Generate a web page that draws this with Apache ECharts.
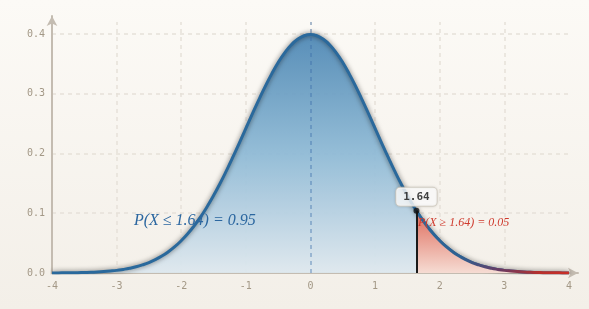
<!DOCTYPE html>
<html>
<head>
<meta charset="utf-8">
<script src="https://cdn.jsdelivr.net/npm/echarts@6/dist/echarts.min.js"></script>
<style>
html,body{margin:0;padding:0;}
#c{width:589px;height:309px;background:linear-gradient(#fcfaf6,#f3efe8);}
</style>
</head>
<body>
<div id="c"></div>
<script>
// x positions along the curve
var xs = [-4.0,-3.9,-3.8,-3.7,-3.6,-3.5,-3.4,-3.3,-3.2,-3.1,-3.0,-2.9,-2.8,-2.7,-2.6,-2.5,-2.4,-2.3,-2.2,-2.1,
  -2.0,-1.9,-1.8,-1.7,-1.6,-1.5,-1.4,-1.3,-1.2,-1.1,-1.0,-0.9,-0.8,-0.7,-0.6,-0.5,-0.4,-0.3,-0.2,-0.1,
  0.0,0.1,0.2,0.3,0.4,0.5,0.6,0.7,0.8,0.9,1.0,1.1,1.2,1.3,1.4,1.5,1.6,1.7,1.8,1.9,
  2.0,2.1,2.2,2.3,2.4,2.5,2.6,2.7,2.8,2.9,3.0,3.1,3.2,3.3,3.4,3.5,3.6,3.7,3.8,3.9,4.0];
// density values
var ys = [0.0001,0.0002,0.0003,0.0004,0.0006,0.0009,0.0012,0.0017,0.0024,0.0033,0.0044,0.0060,0.0079,0.0104,0.0136,0.0175,0.0224,0.0283,0.0355,0.0440,
  0.0540,0.0656,0.0790,0.0940,0.1109,0.1295,0.1497,0.1714,0.1942,0.2179,0.2420,0.2661,0.2897,0.3123,0.3332,0.3521,0.3683,0.3814,0.3910,0.3970,
  0.3989,0.3970,0.3910,0.3814,0.3683,0.3521,0.3332,0.3123,0.2897,0.2661,0.2420,0.2179,0.1942,0.1714,0.1497,0.1295,0.1109,0.0940,0.0790,0.0656,
  0.0540,0.0440,0.0355,0.0283,0.0224,0.0175,0.0136,0.0104,0.0079,0.0060,0.0044,0.0033,0.0024,0.0017,0.0012,0.0009,0.0006,0.0004,0.0003,0.0002,0.0001];
// right tail (shaded)
var tailX = [1.64,1.7,1.8,1.9,2.0,2.1,2.2,2.3,2.4,2.5,2.6,2.7,2.8,2.9,3.0,3.1,3.2,3.3,3.4,3.5,3.6,3.7,3.8,3.9,4.0];
var tailY = [0.1040,0.0940,0.0790,0.0656,0.0540,0.0440,0.0355,0.0283,0.0224,0.0175,0.0136,0.0104,0.0079,0.0060,0.0044,0.0033,0.0024,0.0017,0.0012,0.0009,0.0006,0.0004,0.0003,0.0002,0.0001];
var cutoff = 1.64;
var cutoffY = 0.1040;
var xTicks = [-4,-3,-2,-1,0,1,2,3,4];
var yTicks = [0.0,0.1,0.2,0.3,0.4];
var gridX = [-3,-2,-1,0,1,2,3];
var gridY = [0.1,0.2,0.3,0.4];
var leftText = 'P(X \u2264 1.64) = 0.95';
var rightText = 'P(X \u2265 1.64) = 0.05';
var leftTextPos = [-1.79, 0.087];
var rightTextPos = [2.37, 0.084];

function zip(a, b) { return a.map(function (v, i) { return [v, b[i]]; }); }

var gridLines = [];
gridY.forEach(function (v) { gridLines.push([{coord: [-4, v]}, {coord: [4, v]}]); });
gridX.forEach(function (v) { gridLines.push([{coord: [v, 0]}, {coord: [v, 0.42]}]); });

var chart = echarts.init(document.getElementById('c'), null, {renderer: 'canvas'});
var axisLabelStyle = {fontFamily: 'DejaVu Sans Mono', fontSize: 10, color: '#a39886'};
chart.setOption({
  backgroundColor: 'transparent',
  animation: false,
  grid: {left: 52, right: 11, top: 16, bottom: 36},
  xAxis: {
    type: 'value', min: -4, max: 4.14, interval: 1,
    axisLine: {show: true, onZero: false, symbol: ['none', 'arrow'], symbolSize: [8, 10], lineStyle: {color: '#c4bcb1', width: 2}},
    axisTick: {show: false},
    splitLine: {show: false},
    axisLabel: Object.assign({margin: 8, showMaxLabel: false, formatter: function (v) { return xTicks.indexOf(v) >= 0 ? String(v) : ''; }}, axisLabelStyle)
  },
  yAxis: {
    type: 'value', min: 0, max: 0.43, interval: 0.1,
    axisLine: {show: true, onZero: false, symbol: ['none', 'arrow'], symbolSize: [8, 10], lineStyle: {color: '#c4bcb1', width: 2}},
    axisTick: {show: false},
    splitLine: {show: false},
    axisLabel: Object.assign({margin: 7, showMaxLabel: false, formatter: function (v) { return yTicks.indexOf(Math.round(v * 10) / 10) >= 0 && Math.abs(v * 10 - Math.round(v * 10)) < 1e-6 ? v.toFixed(1) : ''; }}, axisLabelStyle)
  },
  series: [
    {
      type: 'line', z: 0, data: [[-4, 0]], symbol: 'none', silent: true,
      lineStyle: {width: 0},
      markLine: {
        z: 0, silent: true, symbol: 'none', label: {show: false},
        lineStyle: {color: '#e6e1d9', width: 1.5, type: [4, 4]},
        data: gridLines
      }
    },
    {
      type: 'line', z: 2, data: zip(xs, ys), symbol: 'none', smooth: true,
      lineStyle: {color: '#2a699c', width: 3, shadowBlur: 5, shadowColor: 'rgba(20,20,20,0.6)'},
      areaStyle: {
        opacity: 0.92,
        color: new echarts.graphic.LinearGradient(0, 0, 0, 1, [
          {offset: 0, color: '#4a85b3'},
          {offset: 0.5, color: '#8cb8d5'},
          {offset: 1, color: '#dde8ee'}
        ])
      },
      markLine: {
        z: 3, silent: true, symbol: 'none', label: {show: false},
        lineStyle: {color: 'rgba(60,110,170,0.5)', width: 1.5, type: [4, 4]},
        data: [[{coord: [0, 0]}, {coord: [0, 0.42]}]]
      },
      markPoint: {
        silent: true, symbol: 'circle', symbolSize: 1, itemStyle: {color: 'transparent'},
        data: [{coord: leftTextPos, value: leftText}],
        label: {show: true, position: 'inside', formatter: leftText, fontFamily: 'Liberation Serif', fontStyle: 'italic', fontSize: 16, color: '#2c67a0'}
      }
    },
    {
      type: 'line', z: 3, data: zip(tailX, tailY), symbol: 'none', smooth: true,
      lineStyle: {
        width: 3,
        color: new echarts.graphic.LinearGradient(0, 0, 1, 0, [
          {offset: 0, color: '#2a699c'},
          {offset: 0.3, color: '#2f5f90'},
          {offset: 0.55, color: '#6a3a62'},
          {offset: 0.8, color: '#b8302c'},
          {offset: 1, color: '#cc2f28'}
        ])
      },
      areaStyle: {
        opacity: 1,
        color: new echarts.graphic.LinearGradient(0, 0, 0, 1, [
          {offset: 0, color: '#de6a5a'},
          {offset: 1, color: '#f6dcd3'}
        ])
      },
      markLine: {
        silent: true, symbol: 'none', label: {show: false},
        lineStyle: {color: '#1a1a1a', width: 2, type: 'solid'},
        data: [[{coord: [cutoff, 0]}, {coord: [cutoff, cutoffY]}]]
      },
      markPoint: {
        silent: true, symbol: 'circle', symbolSize: 1, itemStyle: {color: 'transparent'},
        data: [{coord: rightTextPos, value: rightText}],
        label: {show: true, position: 'inside', formatter: rightText, fontFamily: 'Liberation Serif', fontStyle: 'italic', fontSize: 12, color: '#cf3b2e'}
      }
    },
    {
      type: 'scatter', z: 5, data: [[cutoff, cutoffY]], symbol: 'circle', symbolSize: 6,
      itemStyle: {color: '#111'},
      label: {
        show: true, position: 'top', distance: 2, formatter: String(cutoff),
        fontFamily: 'DejaVu Sans Mono', fontWeight: 'bold', fontSize: 11, color: '#111',
        backgroundColor: '#ffffff', borderColor: '#d6cfc4', borderWidth: 1, borderRadius: 4,
        padding: [4, 7, 3, 7], shadowBlur: 3, shadowColor: 'rgba(0,0,0,0.15)'
      }
    }
  ]
});
</script>
</body>
</html>
